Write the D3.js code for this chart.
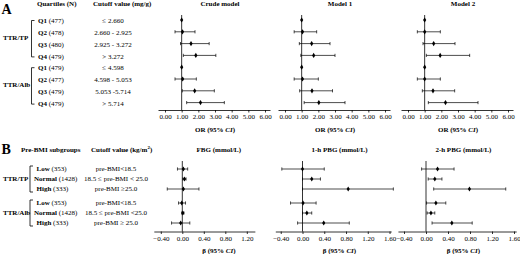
<!DOCTYPE html>
<html>
<head>
<meta charset="utf-8">
<script src="https://cdn.jsdelivr.net/npm/d3@7"></script>
<style>
  html, body { margin: 0; padding: 0; background: #fff; }
  svg { display: block; }
  text { font-family: "Liberation Serif", "Times New Roman", serif; fill: #000; }
  .axis path, .axis line { stroke: #000; stroke-width: 0.8; }
  .axis text { font-size: 7px; font-family: "Liberation Serif", serif; }
</style>
</head>
<body>
<svg id="chart" width="520" height="254"></svg>
<script>
/* panel A data */
const groupsA = ["TTR/TP", "TTR/Alb"];
const quartiles = ["Q1", "Q2", "Q3", "Q4"];
const quartileN = [[477, 478, 480, 479], [479, 477, 479, 479]];
const cutoffA = [["≤ 2.660", "2.660 - 2.925", "2.925 - 3.272", "> 3.272"],
                 ["≤ 4.598", "4.598 - 5.053", "5.053 -5.714", "> 5.714"]];
const modelTitles = ["Crude model", "Model 1", "Model 2"];
const orTicks = [0, 1, 2, 3, 4, 5, 6];

const orCrude = [1.00, 1.05, 1.56, 1.85, 1.00, 1.06, 1.78, 2.13];
const loCrude = [null, 0.60, 0.93, 1.10, null, 0.60, 1.04, 1.30];
const hiCrude = [null, 1.80, 2.65, 3.05, null, 1.88, 2.96, 3.56];
const orModel1 = [1.00, 1.05, 1.60, 1.72, 1.00, 1.05, 1.62, 2.03];
const loModel1 = [null, 0.55, 0.86, 0.95, null, 0.55, 0.88, 1.15];
const hiModel1 = [null, 1.90, 2.70, 3.00, null, 2.00, 2.85, 3.60];
const orModel2 = [1.00, 1.00, 1.54, 1.93, 1.00, 1.00, 1.50, 2.25];
const loModel2 = [null, 0.56, 0.90, 1.10, null, 0.56, 0.86, 1.22];
const hiModel2 = [null, 1.94, 2.82, 3.70, null, 1.94, 2.80, 4.20];

/* panel B data */
const bmiGroups = ["Low", "Normal", "High"];
const bmiN = [353, 1428, 333];
const cutoffB = [["pre-BMI<18.5", "18.5 ≤ pre-BMI < 25.0", "pre-BMI ≥25.0"],
                 ["pre-BMI<18.5", "18.5 ≤ pre-BMI <25.0", "pre-BMI ≥ 25.0"]];
const outcomeTitles = ["FBG (mmol/L)", "1-h PBG (mmol/L)", "2-h PBG (mmol/L)"];
const betaTicksFbg = [-0.4, 0, 0.4, 0.8, 1.2];
const betaTicks = [-0.4, 0, 0.4, 0.8, 1.2, 1.6];

const betaFbg = [0.02, 0.04, 0.02, -0.01, 0.01, -0.03];
const loFbg = [-0.09, 0.01, -0.28, -0.07, -0.01, -0.20];
const hiFbg = [0.10, 0.07, 0.31, 0.06, 0.03, 0.14];
const beta1h = [0.00, 0.17, 0.84, 0.01, 0.08, 0.39];
const lo1h = [-0.38, 0.00, 0.00, -0.22, 0.00, -0.09];
const hi1h = [0.40, 0.33, 1.67, 0.25, 0.17, 0.86];
const beta2h = [0.21, 0.16, 0.79, 0.18, 0.09, 0.47];
const lo2h = [-0.08, 0.04, 0.14, 0.01, 0.02, 0.11];
const hi2h = [0.51, 0.29, 1.45, 0.36, 0.16, 0.84];

const svg = d3.select("#chart");
const fmt = d3.format(".2f");

/* helpers */
function boldLabel(g, x, y, bold, rest, anchor) {
    const t = g.append("text").attr("x", x).attr("y", y).attr("dy", "0.35em")
        .attr("font-size", 7).attr("text-anchor", anchor || "start");
    t.append("tspan").attr("font-weight", "bold").text(bold);
    t.append("tspan").text(rest);
    return t;
}

function ciLabel(g, x, y, prefix) {
    const t = g.append("text").attr("x", x).attr("y", y)
        .attr("font-size", 7).attr("font-weight", "bold").attr("text-anchor", "middle");
    t.append("tspan").text(prefix + " (95% ");
    t.append("tspan").attr("font-style", "italic").text("CI");
    t.append("tspan").text(")");
}

function bracket(g, x, y1, y2) {
    g.append("path")
        .attr("d", `M${x + 3},${y1}H${x}V${y2}H${x + 3}`)
        .attr("fill", "none").attr("stroke", "#000").attr("stroke-width", 0.8);
}

function forest(g, rows, x, y, axisY, refValue, refTop, est, lo, hi) {
    g.append("line")
        .attr("x1", x(refValue)).attr("x2", x(refValue))
        .attr("y1", refTop).attr("y2", axisY)
        .attr("stroke", "#000").attr("stroke-width", 0.8);

    const data = rows.map((r, i) => ({ r, est: est[i], lo: lo[i], hi: hi[i] }));
    const withCi = data.filter(d => d.lo !== null);

    g.selectAll(".ci").data(withCi).enter().append("line")
        .attr("x1", d => x(d.lo)).attr("x2", d => x(d.hi))
        .attr("y1", d => y(d.r)).attr("y2", d => y(d.r))
        .attr("stroke", "#000").attr("stroke-width", 0.7);
    g.selectAll(".capL").data(withCi).enter().append("line")
        .attr("x1", d => x(d.lo)).attr("x2", d => x(d.lo))
        .attr("y1", d => y(d.r) - 1.6).attr("y2", d => y(d.r) + 1.6)
        .attr("stroke", "#000").attr("stroke-width", 0.7);
    g.selectAll(".capR").data(withCi).enter().append("line")
        .attr("x1", d => x(d.hi)).attr("x2", d => x(d.hi))
        .attr("y1", d => y(d.r) - 1.6).attr("y2", d => y(d.r) + 1.6)
        .attr("stroke", "#000").attr("stroke-width", 0.7);

    g.selectAll(".pt").data(data).enter().append("path")
        .attr("d", "M0,-2.6L1.6,0L0,2.6L-1.6,0Z")
        .attr("transform", d => `translate(${x(d.est)},${y(d.r)})`)
        .attr("fill", "#000");
}

/* ---------- panel A ---------- */
const gA = svg.append("g");
const rowsA = d3.range(8);
const yA = d3.scaleLinear().domain([0, 7]).range([20, 102.6]);
const axisYA = 110;

gA.append("text").attr("x", 1.5).attr("y", 13.5)
    .attr("font-family", "Liberation Sans, Arial, sans-serif")
    .attr("font-weight", "bold").attr("font-size", 14).text("A");
gA.append("text").attr("x", 37).attr("y", 6).attr("font-size", 7)
    .attr("font-weight", "bold").text("Quartiles (N)");
gA.append("text").attr("x", 93).attr("y", 6).attr("font-size", 7)
    .attr("font-weight", "bold").text("Cutoff value (mg/g)");

groupsA.forEach((grp, gi) => {
    const first = gi * 4, last = gi * 4 + 3;
    gA.append("text").attr("x", 3).attr("y", (yA(first) + yA(last)) / 2)
        .attr("dy", "0.35em").attr("font-size", 7).attr("font-weight", "bold").text(grp);
    bracket(gA, 31.5, yA(first) + 0.5, yA(last) + 1.5);
    quartiles.forEach((q, qi) => {
        const r = first + qi;
        boldLabel(gA, 38, yA(r) + 0.8, q, " (" + quartileN[gi][qi] + ")");
        gA.append("text").attr("x", 113).attr("y", yA(r) + 0.8).attr("dy", "0.35em")
            .attr("font-size", 7).attr("text-anchor", "middle").text(cutoffA[gi][qi]);
    });
});

const modelData = [
    [orCrude, loCrude, hiCrude],
    [orModel1, loModel1, hiModel1],
    [orModel2, loModel2, hiModel2]
];
const modelX0 = [165, 285, 408];

modelData.forEach((m, mi) => {
    const x = d3.scaleLinear().domain([-0.42, 6.3])
        .range([modelX0[mi] - 7, modelX0[mi] - 7 + 112]);
    const g = gA.append("g");
    g.append("g").attr("class", "axis")
        .attr("transform", `translate(0,${axisYA})`)
        .call(d3.axisBottom(x).tickValues(orTicks).tickFormat(fmt)
            .tickSize(2.5).tickSizeOuter(0).tickPadding(1.5));
    forest(g, rowsA, x, yA, axisYA, 1, 15, m[0], m[1], m[2]);
    const cx = x(3);
    g.append("text").attr("x", cx + 5).attr("y", 6).attr("font-size", 7)
        .attr("font-weight", "bold").attr("text-anchor", "middle").text(modelTitles[mi]);
    ciLabel(g, cx, 131.5, "OR");
});

/* ---------- panel B ---------- */
const gB = svg.append("g");
const rowsB = d3.range(6);
const yB = d3.scaleLinear().domain([0, 1]).range([169, 179]);
const rowPos = r => (r < 3 ? r : r + 0.4);
const yRowB = r => yB(rowPos(r));
const axisYB = 231.5;

gB.append("text").attr("x", 1.5).attr("y", 153.5)
    .attr("font-family", "Liberation Sans, Arial, sans-serif")
    .attr("font-weight", "bold").attr("font-size", 14).text("B");
gB.append("text").attr("x", 21).attr("y", 151.5).attr("font-size", 7)
    .attr("font-weight", "bold").text("Pre-BMI subgroups");
const hdr = gB.append("text").attr("x", 91).attr("y", 151.5).attr("font-size", 7)
    .attr("font-weight", "bold");
hdr.append("tspan").text("Cutoff value (kg/m");
hdr.append("tspan").attr("font-size", 5).attr("dy", -2.5).text("2");
hdr.append("tspan").attr("dy", 2.5).text(")");

groupsA.forEach((grp, gi) => {
    const first = gi * 3, last = gi * 3 + 2;
    gB.append("text").attr("x", 3).attr("y", (yRowB(first) + yRowB(last)) / 2)
        .attr("dy", "0.35em").attr("font-size", 7).attr("font-weight", "bold").text(grp);
    bracket(gB, 30, yRowB(first) - 3, yRowB(last) + 3);
    bmiGroups.forEach((b, bi) => {
        const r = first + bi;
        const lx = b === "Normal" ? 34 : 36.5;
        boldLabel(gB, lx, yRowB(r), b, " (" + bmiN[bi] + ")");
        gB.append("text").attr("x", 116).attr("y", yRowB(r)).attr("dy", "0.35em")
            .attr("font-size", 7).attr("text-anchor", "middle").text(cutoffB[gi][bi]);
    });
});

const outcomeData = [
    [betaFbg, loFbg, hiFbg, betaTicksFbg, [-0.53, 1.35], 182.3, 53.75],
    [beta1h, lo1h, hi1h, betaTicks, [-0.5, 1.63], 302.5, 54.4],
    [beta2h, lo2h, hi2h, betaTicks, [-0.51, 1.64], 426, 55]
];

outcomeData.forEach((o, oi) => {
    const [est, lo, hi, ticks, dom, x0, unit] = o;
    const x = d3.scaleLinear().domain(dom)
        .range([x0 + dom[0] * unit, x0 + dom[1] * unit]);
    const g = gB.append("g");
    g.append("g").attr("class", "axis")
        .attr("transform", `translate(0,${axisYB})`)
        .call(d3.axisBottom(x).tickValues(ticks).tickFormat(fmt)
            .tickSize(2.5).tickSizeOuter(0).tickPadding(2.5));
    forest(g, rowsB, x, yRowB, axisYB, 0, 161, est, lo, hi);
    const cx = x(0.68);
    g.append("text").attr("x", cx).attr("y", 151.5).attr("font-size", 7)
        .attr("font-weight", "bold").attr("text-anchor", "middle").text(outcomeTitles[oi]);
    ciLabel(g, cx, 253, "β");
});
</script>
</body>
</html>
